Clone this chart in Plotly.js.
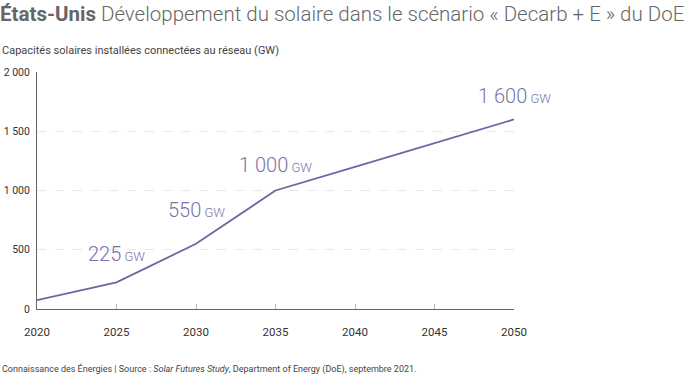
<!DOCTYPE html>
<html><head><meta charset="utf-8">
<script src="https://cdn.plot.ly/plotly-3.0.1.min.js"></script>
<style>body{margin:0;padding:0;background:#fff}#c{width:700px;height:376px}</style>
</head><body><div id="c"></div>
<script>
const years = [2020, 2025, 2030, 2035, 2040, 2045, 2050];
const capacityGW = [75, 225, 550, 1000, 1200, 1400, 1600];
const labelYears = [2025, 2030, 2035, 2050];
const labelValues = [225, 550, 1000, 1600];
const labelTexts = ['225', '550', '1 000', '1 600'];
const labelShifts = [14, 20, 12, 9];
const yTicks = [0, 500, 1000, 1500, 2000];

const FONT = 'Roboto, sans-serif';
const lineColor = '#6b67a3';
const annColor = '#7873a8';

const annotations = labelYears.map((x, i) => ({
  x: x, y: labelValues[i], xref: 'x', yref: 'y',
  text: labelTexts[i] + '<span style="font-size:13px"> GW</span>',
  showarrow: false, xanchor: 'center', yanchor: 'bottom', yshift: labelShifts[i],
  font: {family: FONT, size: 20, color: annColor, weight: 300}
}));

annotations.push({
  xref: 'paper', yref: 'paper', x: -37/477, y: 1 + (72-51)/237, xanchor: 'left', yanchor: 'middle',
  showarrow: false, text: 'Capacités solaires installées connectées au réseau (GW)',
  font: {family: FONT, size: 11, color: '#444'}
});
annotations.push({
  xref: 'paper', yref: 'paper', x: -37/477, y: -(369-309)/237, xanchor: 'left', yanchor: 'middle',
  showarrow: false,
  text: 'Connaissance des Énergies | Source : <i>Solar Futures Study</i>, Department of Energy (DoE), septembre 2021.',
  font: {family: FONT, size: 9, color: '#444'}
});

const data = [{
  x: years, y: capacityGW, type: 'scatter', mode: 'lines',
  line: {color: lineColor, width: 1.8}, hoverinfo: 'skip'
}];

const layout = {
  width: 700, height: 376,
  margin: {l: 37, r: 186, t: 72, b: 67},
  paper_bgcolor: '#fff', plot_bgcolor: '#fff',
  separators: ', ',
  showlegend: false,
  font: {family: FONT, color: '#333'},
  title: {
    text: '<b>États-Unis</b> Développement du solaire dans le scénario « Decarb + E » du DoE',
    x: 0, xref: 'container', xanchor: 'left', y: 1 - 14/376, yref: 'container', yanchor: 'middle',
    pad: {l: 0},
    font: {family: FONT, size: 20.5, color: '#666', weight: 300}
  },
  xaxis: {
    range: [2020, 2050], tickvals: years, ticktext: years.map(String),
    showgrid: false, zeroline: false, showline: true, linecolor: '#666', linewidth: 1,
    ticks: 'inside', ticklen: 5, tickcolor: '#bbb', tickwidth: 1,
    ticklabelstandoff: 12,
    tickfont: {family: FONT, size: 11.5, color: '#333'}, fixedrange: true
  },
  yaxis: {
    range: [0, 2000], tickvals: yTicks, separatethousands: true,
    showgrid: true, gridcolor: '#e8e8e8', griddash: 'dash', gridwidth: 1,
    zeroline: false, showline: true, linecolor: '#666', linewidth: 1,
    ticks: '', ticklabelstandoff: 4,
    tickfont: {family: FONT, size: 10.5, color: '#333'}, fixedrange: true
  },
  annotations: annotations
};

Plotly.newPlot('c', data, layout, {displayModeBar: false, staticPlot: true});
</script></body></html>
